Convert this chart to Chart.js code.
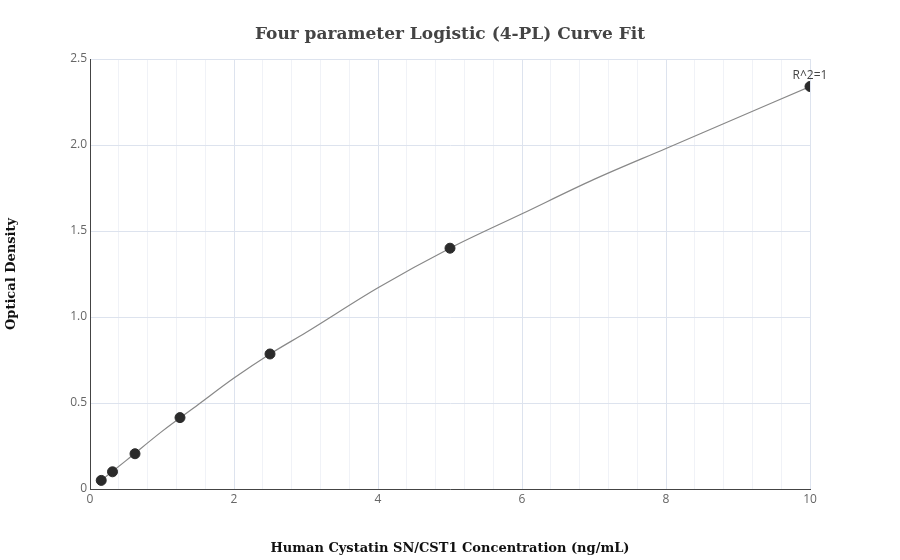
<!DOCTYPE html>
<html><head><meta charset="utf-8">
<script src="https://cdn.jsdelivr.net/npm/chart.js@4"></script>
<style>body{margin:0;background:#fff}#w{width:900px;height:560px}</style></head>
<body><div id="w"><canvas id="c"></canvas></div>
<script>
const concentrations=[0.156,0.3125,0.625,1.25,2.5,5,10];
const densities=[0.05,0.10,0.205,0.415,0.785,1.40,2.34];
const curveX=[0.156,0.5,1,1.5,2,2.5,3,4,5,6,7,8,9,10];
const curveY=[0.05,0.165,0.335,0.49,0.645,0.785,0.91,1.17,1.40,1.60,1.80,1.98,2.16,2.34];
const xTicks=[0,2,4,6,8,10];
const yTicks=[0,0.5,1,1.5,2,2.5];
const annot={text:'R^2=1',x:10,y:2.34};
const chartTitle='Four parameter Logistic (4-PL) Curve Fit';
const lab={id:'lab',afterDraw(ch){const c=ch.ctx,xs=ch.scales.x,ys=ch.scales.y;c.save();c.font='12px "Open Sans"';c.fillStyle='#444';c.textAlign='center';c.fillText(annot.text,xs.getPixelForValue(annot.x),ys.getPixelForValue(annot.y)-8);
c.font='bold 17px "DejaVu Serif"';c.fillStyle='#444';c.fillText(chartTitle,450,39);c.restore();}};
new Chart(document.getElementById('c'),{type:'scatter',
data:{datasets:[
{data:concentrations.map((x,i)=>({x,y:densities[i]})),backgroundColor:'#2b2b2b',borderColor:'#2b2b2b',pointRadius:5,order:0},
{type:'line',data:curveX.map((x,i)=>({x,y:curveY[i]})),borderColor:'#888',borderWidth:1.2,pointRadius:0,cubicInterpolationMode:'monotone',order:1}]},
options:{responsive:true,maintainAspectRatio:false,animation:false,
layout:{padding:{left:0,right:90,top:59,bottom:0}},
plugins:{legend:{display:false},tooltip:{enabled:false},title:{display:false}},
scales:{
x:{type:'linear',min:0,max:10,afterFit:a=>{a.height=71},
 afterBuildTicks:a=>{const t=[];for(let i=0;i<=25;i++)t.push({value:+(i*0.4).toFixed(2)});a.ticks=t;},
 ticks:{autoSkip:false,maxRotation:0,minRotation:0,color:'#666',font:{family:'Open Sans',size:12},callback:v=>xTicks.some(t=>Math.abs(t-v)<1e-6)?String(Math.round(v)):''},
 grid:{color:c=>{const v=c.tick&&c.tick.value;return xTicks.some(t=>Math.abs(t-v)<1e-6)?'#dde3ee':'#f0f2f7'},drawTicks:false},border:{color:'#444'},
 title:{display:true,text:'Human Cystatin SN/CST1 Concentration (ng/mL)',color:'#111',font:{family:'DejaVu Serif',size:13,weight:'bold'},padding:{top:8}}},
y:{min:0,max:2.5,afterFit:a=>{a.width=90},afterBuildTicks:a=>{const t=[];for(let i=0;i<=5;i++)t.push({value:i*0.5});a.ticks=t;},
 ticks:{autoSkip:false,color:'#666',font:{family:'Open Sans',size:12}},
 grid:{color:'#dde3ee',drawTicks:false},border:{color:'#444'},
 title:{display:true,text:'Optical Density',color:'#111',font:{family:'DejaVu Serif',size:13,weight:'bold'}}}}},
plugins:[lab]});
</script></body></html>
